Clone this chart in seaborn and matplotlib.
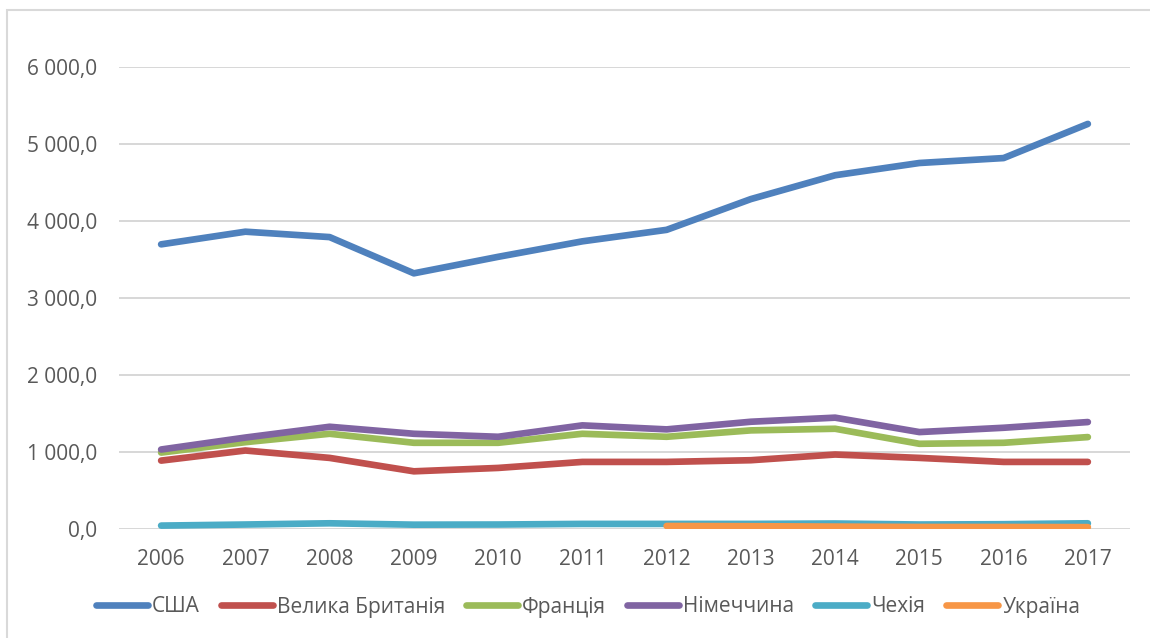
import numpy as np
import pandas as pd
import seaborn as sns
import matplotlib.pyplot as plt
from matplotlib.patches import Rectangle
from matplotlib.ticker import FuncFormatter

years = list(range(2006, 2018))
usa = [3696, 3860, 3790, 3320, 3534, 3735, 3884, 4283, 4592, 4751, 4815, 5258]
uk = [891, 1022, 926, 752, 796, 874, 874, 896, 970, 926, 874, 874]
france = [995, 1130, 1239, 1122, 1122, 1239, 1200, 1283, 1304, 1109, 1122, 1196]
germany = [1035, 1190, 1330, 1239, 1200, 1348, 1296, 1395, 1448, 1261, 1317, 1391]
czech = [48, 62, 78, 60, 62, 70, 70, 70, 75, 62, 66, 78]
ukraine = [np.nan] * 6 + [43, 40, 35, 30, 30, 28]

countries = ['США', 'Велика Британія', 'Франція', 'Німеччина', 'Чехія', 'Україна']
colors = ['#4F81BD', '#C0504D', '#9BBB59', '#8064A2', '#4BACC6', '#F79646']
series = [usa, uk, france, germany, czech, ukraine]

df = pd.DataFrame({
    'year': years * len(countries),
    'country': [c for c in countries for _ in years],
    'value': [v for s in series for v in s],
})

sns.set_theme(style="white")
plt.rcParams['font.family'] = ['Open Sans', 'DejaVu Sans']

fig = plt.figure(figsize=(11.5, 6.38), dpi=100)
ax = fig.add_axes([119 / 1150, 1 - 529.3 / 638, (1130 - 119) / 1150, (529.3 - 66.7) / 638])

# chart frame (Excel-like)
fig.patches.append(Rectangle((7 / 1150, -0.1), 1.2, 1.1 - 10 / 638, transform=fig.transFigure,
                             fill=False, edgecolor='#d9d9d9', linewidth=1.5, zorder=0))

sns.lineplot(data=df, x='year', y='value', hue='country', hue_order=countries,
             palette=colors, linewidth=4.8, ax=ax, sort=False)
for ln in ax.get_lines():
    ln.set_solid_capstyle('round')
    ln.set_solid_joinstyle('round')

ax.set_xlim(2005.5, 2017.5)
ax.set_ylim(0, 6000)
ax.set_xticks(years)
ax.set_yticks(range(0, 6001, 1000))
ax.yaxis.set_major_formatter(FuncFormatter(lambda v, p: f"{v:,.1f}".replace(',', ' ').replace('.', ',')))
ax.grid(axis='y', color='#d4d4d4', linewidth=1.3)
ax.set_axisbelow(True)
for s in ax.spines.values():
    s.set_visible(False)
ax.tick_params(axis='both', length=0, labelsize=15, labelcolor='#595959')
ax.tick_params(axis='y', pad=16)
ax.tick_params(axis='x', pad=14)
ax.set_xlabel('')
ax.set_ylabel('')

handles, labels = ax.get_legend_handles_labels()
ax.get_legend().remove()
leg = fig.legend(handles, labels, loc='center', bbox_to_anchor=(588 / 1150, 1 - 607 / 638),
                 ncol=6, frameon=False, fontsize=15, handlelength=2.5, handletextpad=0.2,
                 columnspacing=1.0, labelcolor='#595959')
for h in leg.get_lines():
    h.set_linewidth(4.8)
    h.set_solid_capstyle('round')

fig.savefig('out.png', dpi=100)
